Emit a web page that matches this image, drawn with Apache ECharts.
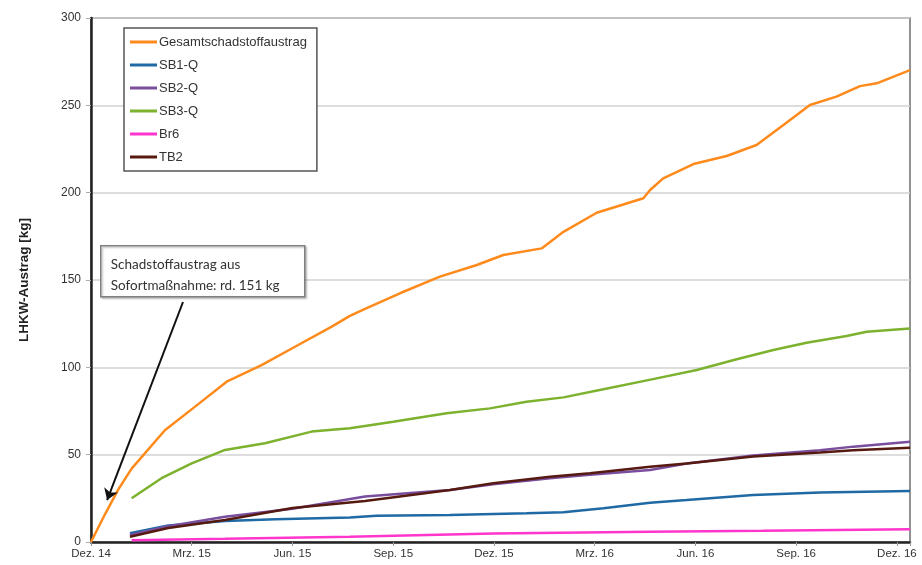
<!DOCTYPE html>
<html>
<head>
<meta charset="utf-8">
<script src="https://cdn.jsdelivr.net/npm/echarts@6/dist/echarts.min.js"></script>
<style>
  html, body { margin: 0; padding: 0; background: #fff; }
  #chart { width: 922px; height: 565px; }
</style>
</head>
<body>
<div id="chart"></div>
<script>
// x = Monate seit Dez. 14, y = LHKW-Austrag [kg]
const xTickLabels = ['Dez. 14', 'Mrz. 15', 'Jun. 15', 'Sep. 15', 'Dez. 15', 'Mrz. 16', 'Jun. 16', 'Sep. 16', 'Dez. 16'];
const seriesNames = ['Gesamtschadstoffaustrag', 'SB1-Q', 'SB2-Q', 'SB3-Q', 'Br6', 'TB2'];

const gesamt = [[0, 0], [0.42, 16], [0.81, 30], [1.21, 42], [2.2, 64], [3.1, 77.5], [4.04, 91.8], [5.08, 101.3],
  [6.17, 112.8], [7.17, 123.3], [7.71, 129.5], [8.16, 133.5], [9.2, 142.4], [10.39, 151.9], [11.49, 158.6],
  [12.28, 164.3], [13.42, 168.1], [14.07, 177.6], [15.06, 188.5], [16.45, 196.8], [16.65, 201.5],
  [17.04, 208.2], [17.94, 216.4], [18.93, 221], [19.82, 227.3], [20.62, 238.7], [21.41, 250.2],
  [22.2, 255], [22.9, 261], [23.4, 262.6], [24.39, 270.2]];
const sb1 = [[1.16, 5], [2.3, 9.5], [3.99, 12], [5.5, 13], [7.71, 14], [8.5, 15], [10.69, 15.5], [12.97, 16.4],
  [14.07, 17], [15.26, 19.3], [16.65, 22.5], [17.74, 24], [19.72, 26.9], [21.71, 28.4], [24.39, 29.2]];
const sb2 = [[1.16, 4], [2.3, 9], [3.99, 14.5], [6, 19], [8.16, 26], [10.69, 29.8], [11.98, 33], [13.67, 36.5],
  [14.86, 38.5], [16.65, 41.2], [17.74, 45], [19.72, 49.5], [21.71, 52.5], [22.7, 54.6], [24.39, 57.4]];
const sb3 = [[1.21, 25], [2.1, 36.5], [3.0, 45], [3.99, 52.7], [5.18, 56.5], [6.57, 63.2], [7.71, 65.1],
  [9.0, 68.9], [10.59, 73.7], [11.88, 76.5], [12.97, 80.3], [14.07, 82.8], [15.26, 87.5], [16.7, 93.1],
  [18.04, 98.5], [19.23, 104.6], [20.32, 109.9], [21.31, 114.1], [22.5, 117.9], [23.1, 120.4], [24.39, 122.3]];
const br6 = [[1.21, 1], [4, 1.8], [7.71, 3], [11.98, 4.8], [16.65, 5.8], [20, 6.4], [24.39, 7.3]];
const tb2 = [[1.16, 3], [2.3, 8], [3.99, 12.6], [6, 19.5], [8.16, 23.5], [10.69, 29.8], [11.98, 33.6],
  [13.67, 37.4], [14.86, 39.3], [16.65, 43.1], [17.74, 45], [19.72, 49], [21.71, 51.2], [22.7, 52.5], [24.39, 54]];

// Pfeil der Anmerkung (Start, Spitze)
const arrowFrom = [2.74, 137.4];
const arrowTo = [0.48, 24];

const colors = ['#ff8a1c', '#1f6aa5', '#7a4e9e', '#7cb22e', '#ff35cc', '#561a10'];
const allData = [gesamt, sb1, sb2, sb3, br6, tb2];

const chart = echarts.init(document.getElementById('chart'));
const font = '"Liberation Sans", Arial, sans-serif';

const series = allData.map((d, i) => ({
  name: seriesNames[i],
  type: 'line',
  data: d,
  symbol: 'none',
  color: colors[i],
  lineStyle: { width: 2.5, color: colors[i] },
  animation: false,
  z: 2 + i
}));

series[0].markLine = {
  silent: true,
  symbol: ['none', 'arrow'],
  symbolSize: 11,
  label: { show: false },
  lineStyle: { color: '#111', width: 2, type: 'solid' },
  data: [[{ coord: arrowFrom }, { coord: arrowTo }]],
  animation: false
};

chart.setOption({
  animation: false,
  grid: {
    left: 91, right: 12, top: 18, bottom: 23,
    show: true, borderColor: '#6e6e6e', borderWidth: 1.5
  },
  legend: {
    orient: 'vertical',
    left: 124, top: 28,
    padding: [7, 10, 7, 6],
    icon: 'rect',
    itemWidth: 27, itemHeight: 3, itemGap: 9,
    borderColor: '#555', borderWidth: 1.5,
    backgroundColor: '#fff',
    data: seriesNames,
    textStyle: { fontFamily: font, fontSize: 13, lineHeight: 14, color: '#333', padding: [0, 0, 0, -3] }
  },
  xAxis: {
    type: 'value',
    min: 0, max: 24.39, interval: 3,
    splitLine: { show: false },
    axisLine: { show: true, lineStyle: { color: '#222', width: 2.5 } },
    axisTick: { show: true, length: 4, lineStyle: { color: '#999', width: 1 } },
    axisLabel: {
      margin: 6,
      fontFamily: font, fontSize: 11.5, color: '#333',
      formatter: v => (Math.abs(v % 3) < 1e-6 && xTickLabels[v / 3]) ? xTickLabels[v / 3] : ''
    }
  },
  yAxis: {
    type: 'value',
    min: 0, max: 300, interval: 50,
    name: 'LHKW-Austrag [kg]',
    nameLocation: 'middle',
    nameGap: 60,
    nameTextStyle: { fontFamily: font, fontSize: 13.5, fontWeight: 'bold', color: '#222' },
    axisLine: { show: true, lineStyle: { color: '#222', width: 2.5 } },
    axisTick: { show: true, length: 5, lineStyle: { color: '#aaa' } },
    splitLine: { show: true, lineStyle: { color: '#d2d2d2', width: 1.5 } },
    axisLabel: { margin: 10, fontFamily: font, fontSize: 12, color: '#333' }
  },
  graphic: [{
    type: 'group',
    left: 100, top: 245,
    z: 100,
    children: [{
      type: 'rect',
      z: 100,
      shape: { x: 0, y: 0, width: 204, height: 51 },
      style: { fill: '#fff', stroke: '#808080', lineWidth: 1.5,
        shadowBlur: 2, shadowOffsetX: 1.5, shadowOffsetY: 1.5, shadowColor: 'rgba(0,0,0,0.25)' }
    }, {
      type: 'text',
      z: 101,
      x: 10, y: 8,
      style: {
        text: 'Schadstoffaustrag aus\nSofortmaßnahme: rd. 151 kg',
        font: '13.5px Lato, "Open Sans", sans-serif',
        lineHeight: 21,
        fill: '#333'
      }
    }]
  }],
  series: series
});
</script>
</body>
</html>
